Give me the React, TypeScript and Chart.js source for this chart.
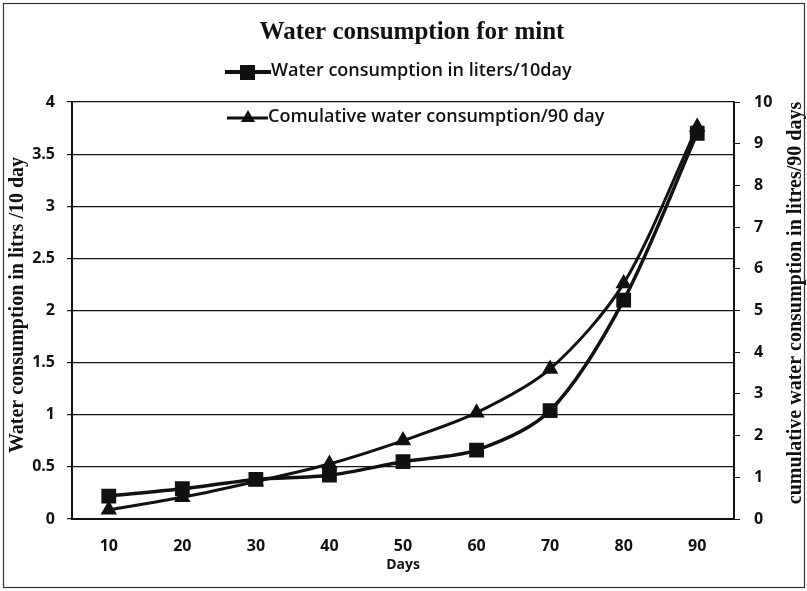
import React, { useEffect, useRef } from "react";
import { Chart, registerables } from "chart.js";

Chart.register(...registerables);

const days = ["10", "20", "30", "40", "50", "60", "70", "80", "90"];
const waterPer10Day = [0.22, 0.29, 0.38, 0.42, 0.55, 0.66, 1.04, 2.1, 3.7];
const cumulativeWater = [0.22, 0.52, 0.9, 1.32, 1.88, 2.55, 3.6, 5.65, 9.4];

const titleText = "Water consumption for mint";
const legend1Text = "Water consumption in liters/10day";
const legend2Text = "Comulative water consumption/90 day";
const leftTitle = "Water consumption in litrs /10 day";
const rightTitle = "cumulative water consumption in litres/90 days";
const xTitle = "Days";

const INK = "#111111";
const SANS = "'Open Sans', 'Liberation Sans', sans-serif";
const SERIF = "'Liberation Serif', 'DejaVu Serif', serif";

const decorPlugin = {
  id: "decor",
  beforeDraw(chart: any) {
    const ctx = chart.ctx;
    ctx.save();
    ctx.fillStyle = "#ffffff";
    ctx.fillRect(0, 0, chart.width, chart.height);
    ctx.strokeStyle = "#333333";
    ctx.lineWidth = 1.2;
    ctx.strokeRect(3.5, 3.5, chart.width - 6, chart.height - 7);
    ctx.restore();
  },
  afterDraw(chart: any) {
    const ctx = chart.ctx;
    const area = chart.chartArea;
    ctx.save();
    ctx.fillStyle = INK;
    ctx.strokeStyle = INK;
    // title
    ctx.font = `bold 25px ${SERIF}`;
    ctx.textAlign = "center";
    ctx.textBaseline = "middle";
    ctx.fillText(titleText, 412, 33);

    // legend 1
    ctx.lineWidth = 4;
    ctx.beginPath();
    ctx.moveTo(225, 72);
    ctx.lineTo(271, 72);
    ctx.stroke();
    ctx.fillRect(240, 65, 15, 15);
    ctx.font = `600 18px ${SANS}`;
    ctx.textAlign = "left";
    ctx.fillText(legend1Text, 271, 71);

    // legend 2
    ctx.lineWidth = 3;
    ctx.beginPath();
    ctx.moveTo(227, 118);
    ctx.lineTo(268, 118);
    ctx.stroke();
    ctx.beginPath();
    ctx.moveTo(248, 110);
    ctx.lineTo(255, 122);
    ctx.lineTo(241, 122);
    ctx.closePath();
    ctx.fill();
    ctx.fillText(legend2Text, 268, 117);

    // axis titles
    ctx.font = `bold 20px ${SERIF}`;
    ctx.textAlign = "center";
    ctx.save();
    ctx.translate(18, 305);
    ctx.rotate(-Math.PI / 2);
    ctx.fillText(leftTitle, 0, 0);
    ctx.restore();

    ctx.font = `bold 20px ${SERIF}`;
    ctx.save();
    ctx.translate(796, 303);
    ctx.rotate(-Math.PI / 2);
    ctx.fillText(rightTitle, 0, 0);
    ctx.restore();

    ctx.font = `bold 14px ${SANS}`;
    ctx.fillText(xTitle, (area.left + area.right) / 2, 565);
    ctx.restore();
  },
};

export default function App() {
  const ref = useRef<HTMLCanvasElement | null>(null);
  useEffect(() => {
    document.body.style.margin = "0";
    const canvas = ref.current!;
    const tickFont = { family: SANS, size: 16, weight: "bold" as const };
    const chart = new Chart(canvas, {
      type: "line",
      data: {
        labels: days,
        datasets: [
          {
            label: legend1Text,
            data: waterPer10Day,
            yAxisID: "y",
            borderColor: INK,
            backgroundColor: INK,
            borderWidth: 3.5,
            pointStyle: "rect",
            pointRadius: 8,
            tension: 0.3,
          },
          {
            label: legend2Text,
            data: cumulativeWater,
            yAxisID: "y1",
            borderColor: INK,
            backgroundColor: INK,
            borderWidth: 3,
            pointStyle: "triangle",
            pointRadius: 6.5,
            tension: 0.3,
          },
        ],
      },
      options: {
        responsive: false,
        animation: false,
        layout: { padding: { top: 102, bottom: 0, left: 0, right: 0 } },
        plugins: {
          legend: { display: false },
          title: { display: false },
          tooltip: { enabled: false },
        },
        scales: {
          x: {
            offset: true,
            grid: { display: false, drawTicks: false },
            border: { display: true, color: INK, width: 2 },
            ticks: { color: INK, font: tickFont, padding: 18 },
            afterFit: (s: any) => {
              s.height = 72;
            },
          },
          y: {
            position: "left",
            min: 0,
            max: 4,
            ticks: {
              stepSize: 0.5,
              color: INK,
              font: tickFont,
              padding: 12,
              callback: (v: any) => String(Number(v)),
            },
            grid: { color: INK, lineWidth: 1.2, tickLength: 5 },
            border: { display: true, color: INK, width: 2 },
            afterFit: (s: any) => {
              s.width = 72;
            },
          },
          y1: {
            position: "right",
            min: 0,
            max: 10,
            ticks: {
              stepSize: 1,
              color: INK,
              font: tickFont,
              padding: 14,
            },
            grid: { drawOnChartArea: false, color: INK, tickLength: 6 },
            border: { display: true, color: INK, width: 2 },
            afterFit: (s: any) => {
              s.width = 73;
            },
          },
        },
      },
      plugins: [decorPlugin],
    } as any);
    return () => chart.destroy();
  }, []);
  return (
    <div style={{ width: 807, height: 591 }}>
      <canvas ref={ref} width={807} height={591} />
    </div>
  );
}
